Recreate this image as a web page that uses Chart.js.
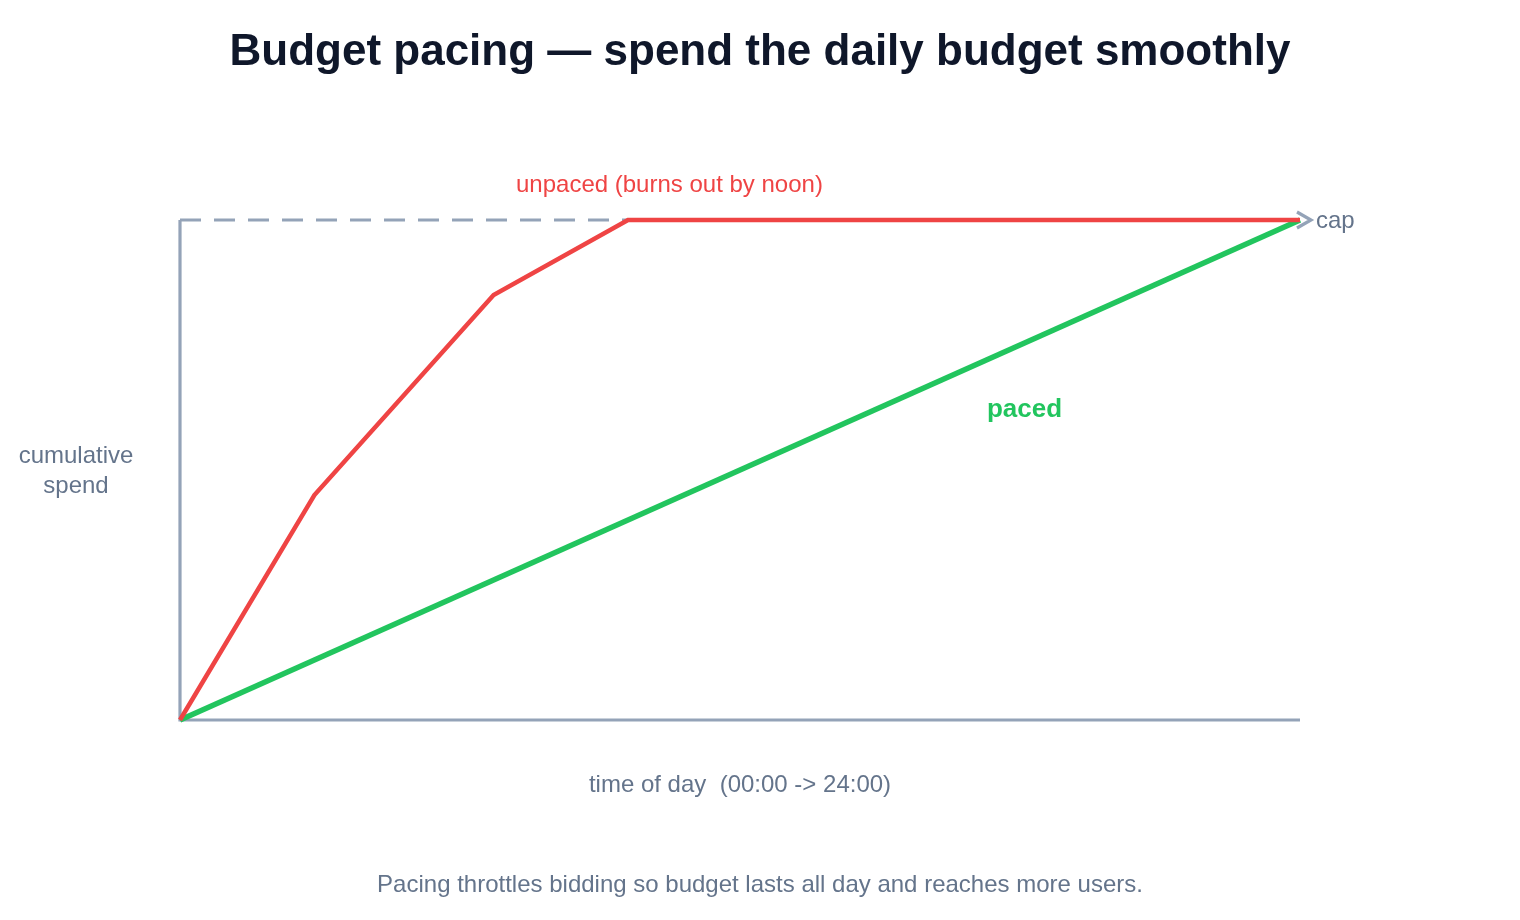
<!DOCTYPE html>
<html>
<head>
<meta charset="utf-8">
<title>Budget pacing</title>
<script src="https://cdn.jsdelivr.net/npm/chart.js@4/dist/chart.umd.min.js"></script>
<style>
  html, body { margin: 0; padding: 0; background: #fff; }
  #wrap { width: 1520px; height: 920px; }
</style>
</head>
<body>
<div id="wrap"><canvas id="chart"></canvas></div>
<script>
// fraction of the day (0 = 00:00, 1 = 24:00) vs fraction of the daily budget spent
const unpacedTime = [0, 0.12, 0.28, 0.4, 1];
const unpacedSpend = [0, 0.45, 0.85, 1, 1];
const pacedTime = [0, 1];
const pacedSpend = [0, 1];
const capLevel = 1;

const titleText = "Budget pacing \u2014 spend the daily budget smoothly";
const yLabel = ["cumulative", "spend"];
const xLabel = "time of day  (00:00 -> 24:00)";
const unpacedLabel = "unpaced (burns out by noon)";
const pacedLabel = "paced";
const capLabel = "cap";
const footnote = "Pacing throttles bidding so budget lasts all day and reaches more users.";

const RED = "#ef4444";
const GREEN = "#22c55e";
const AXIS = "#94a3b8";
const MUTED = "#64748b";
const FONT = "'Liberation Sans', Arial, Helvetica, sans-serif";

const toPoints = (xs, ys) => xs.map((x, i) => ({ x: x, y: ys[i] }));

// axes, cap line and all the text
const decor = {
  id: "decor",
  beforeDatasetsDraw(chart) {
    const ctx = chart.ctx;
    const xs = chart.scales.x;
    const ys = chart.scales.y;
    const x0 = xs.getPixelForValue(0);
    const x1 = xs.getPixelForValue(1);
    const y0 = ys.getPixelForValue(0);
    const yc = ys.getPixelForValue(capLevel);
    ctx.save();
    ctx.strokeStyle = AXIS;
    ctx.lineWidth = 3.2;
    ctx.lineCap = "butt";
    // y axis + x axis
    ctx.beginPath();
    ctx.moveTo(x0, yc);
    ctx.lineTo(x0, y0);
    ctx.lineTo(x1, y0);
    ctx.stroke();
    // dashed cap line
    ctx.setLineDash([21, 13]);
    ctx.beginPath();
    ctx.moveTo(x0, yc);
    ctx.lineTo(x1, yc);
    ctx.stroke();
    ctx.restore();
  },
  afterDatasetsDraw(chart) {
    const ctx = chart.ctx;
    const xs = chart.scales.x;
    const ys = chart.scales.y;
    const x0 = xs.getPixelForValue(0);
    const x1 = xs.getPixelForValue(1);
    const y0 = ys.getPixelForValue(0);
    const yc = ys.getPixelForValue(capLevel);
    const w = chart.width;
    ctx.save();
    // arrow head on cap line
    ctx.strokeStyle = AXIS;
    ctx.lineWidth = 3.2;
    ctx.lineJoin = "miter";
    ctx.beginPath();
    ctx.moveTo(x1 - 3, yc - 8);
    ctx.lineTo(x1 + 11, yc);
    ctx.lineTo(x1 - 3, yc + 8);
    ctx.stroke();

    ctx.textBaseline = "middle";
    ctx.fillStyle = MUTED;
    ctx.font = "24px " + FONT;
    ctx.textAlign = "left";
    ctx.fillText(capLabel, x1 + 16, yc + 1);

    ctx.textAlign = "center";
    ctx.fillText(yLabel[0], 76, (yc + y0) / 2 - 14);
    ctx.fillText(yLabel[1], 76, (yc + y0) / 2 + 16);
    ctx.fillText(xLabel, (x0 + x1) / 2, y0 + 65);
    ctx.fillText(footnote, w / 2, 885);

    ctx.fillStyle = RED;
    ctx.fillText(unpacedLabel, xs.getPixelForValue(0.437), yc - 35);

    ctx.fillStyle = GREEN;
    ctx.font = "bold 26px " + FONT;
    ctx.fillText(pacedLabel, xs.getPixelForValue(0.754), ys.getPixelForValue(0.62));

    ctx.fillStyle = "#0f172a";
    ctx.font = "bold 44px " + FONT;
    ctx.fillText(titleText, w / 2, 53);
    ctx.restore();
  }
};

new Chart(document.getElementById("chart"), {
  type: "scatter",
  data: {
    datasets: [
      {
        label: "paced",
        data: toPoints(pacedTime, pacedSpend),
        showLine: true,
        borderColor: GREEN,
        borderWidth: 5.5,
        pointRadius: 0,
        clip: false,
        order: 2
      },
      {
        label: "unpaced",
        data: toPoints(unpacedTime, unpacedSpend),
        showLine: true,
        borderColor: RED,
        borderWidth: 4.5,
        pointRadius: 0,
        clip: false,
        order: 1
      }
    ]
  },
  options: {
    responsive: true,
    maintainAspectRatio: false,
    animation: false,
    layout: { padding: { left: 180, right: 220, top: 220, bottom: 200 } },
    scales: {
      x: { type: "linear", min: 0, max: 1, display: false },
      y: { type: "linear", min: 0, max: 1, display: false }
    },
    plugins: {
      legend: { display: false },
      tooltip: { enabled: false }
    }
  },
  plugins: [decor]
});
</script>
</body>
</html>
